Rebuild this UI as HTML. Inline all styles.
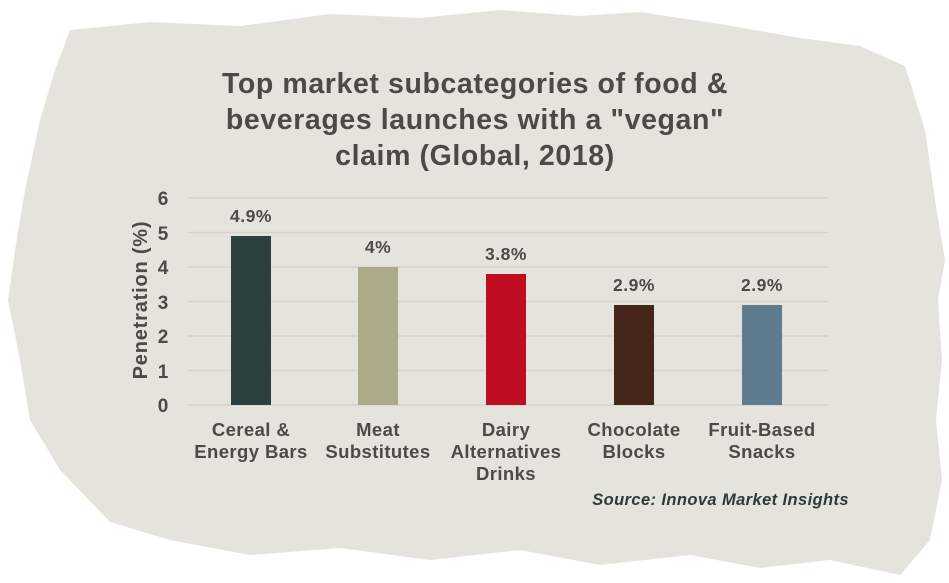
<!DOCTYPE html>
<html><head><style>
html,body{margin:0;padding:0;background:#fff;}
svg{display:block;}
text{font-family:"Liberation Sans",Arial,sans-serif;font-weight:bold;fill:#4b4a47;}
</style></head><body>
<svg width="949" height="583" viewBox="0 0 949 583" xmlns="http://www.w3.org/2000/svg">
<path d="M70 30 L150 22 L240 26 L330 14 L420 18 L500 10 L580 16 L640 12 L720 24 L800 38 L860 46 L905 66 L925 130 L935 200 L945 260 L938 300 L942 360 L936 420 L942 480 L930 540 L900 575 L830 560 L760 568 L690 555 L600 565 L520 550 L430 560 L340 548 L250 555 L170 540 L110 522 L60 470 L30 420 L20 360 L8 300 L15 250 L25 190 L40 120 L55 70 Z" fill="#e5e4dc"/>
<text x="475" y="93" font-size="28.5" text-anchor="middle" letter-spacing="0.6">Top market subcategories of food &amp;</text>
<text x="475" y="129" font-size="28.5" text-anchor="middle" letter-spacing="0.6">beverages launches with a "vegan"</text>
<text x="475" y="165" font-size="28.5" text-anchor="middle" letter-spacing="0.6">claim (Global, 2018)</text>
<g stroke="#d4d3cb" stroke-width="1.5">
<line x1="188" y1="198" x2="828" y2="198"/><line x1="188" y1="232.5" x2="828" y2="232.5"/>
<line x1="188" y1="267" x2="828" y2="267"/><line x1="188" y1="301.5" x2="828" y2="301.5"/>
<line x1="188" y1="336" x2="828" y2="336"/><line x1="188" y1="370.5" x2="828" y2="370.5"/>
<line x1="188" y1="405" x2="828" y2="405"/>
</g>
<g font-size="19" text-anchor="middle">
<text x="163" y="205">6</text><text x="163" y="240">5</text><text x="163" y="274">4</text>
<text x="163" y="309">3</text><text x="163" y="343">2</text><text x="163" y="378">1</text><text x="163" y="412">0</text>
</g>
<text transform="translate(147,300) rotate(-90)" font-size="20" text-anchor="middle" letter-spacing="0.8">Penetration (%)</text>
<rect x="231" y="236" width="40" height="169" fill="#2c403e"/>
<rect x="358" y="267" width="40" height="138" fill="#acaa88"/>
<rect x="486" y="274" width="40" height="131" fill="#bf0d22"/>
<rect x="614" y="305" width="40" height="100" fill="#46261a"/>
<rect x="742" y="305" width="40" height="100" fill="#5f7b8e"/>
<g font-size="17.5" text-anchor="middle" letter-spacing="0.5">
<text x="251" y="222">4.9%</text><text x="378" y="253">4%</text><text x="506" y="260">3.8%</text>
<text x="634" y="291">2.9%</text><text x="762" y="291">2.9%</text>
</g>
<g font-size="18.5" text-anchor="middle" letter-spacing="0.4">
<text x="251" y="436">Cereal &amp;</text><text x="251" y="458">Energy Bars</text>
<text x="378" y="436">Meat</text><text x="378" y="458">Substitutes</text>
<text x="506" y="436">Dairy</text><text x="506" y="458">Alternatives</text><text x="506" y="480">Drinks</text>
<text x="634" y="436">Chocolate</text><text x="634" y="458">Blocks</text>
<text x="762" y="436">Fruit-Based</text><text x="762" y="458">Snacks</text>
</g>
<text x="849" y="505" font-size="16.5" font-style="italic" text-anchor="end" letter-spacing="0.4" style="fill:#2f3a37">Source: Innova Market Insights</text>
</svg>
</body></html>
